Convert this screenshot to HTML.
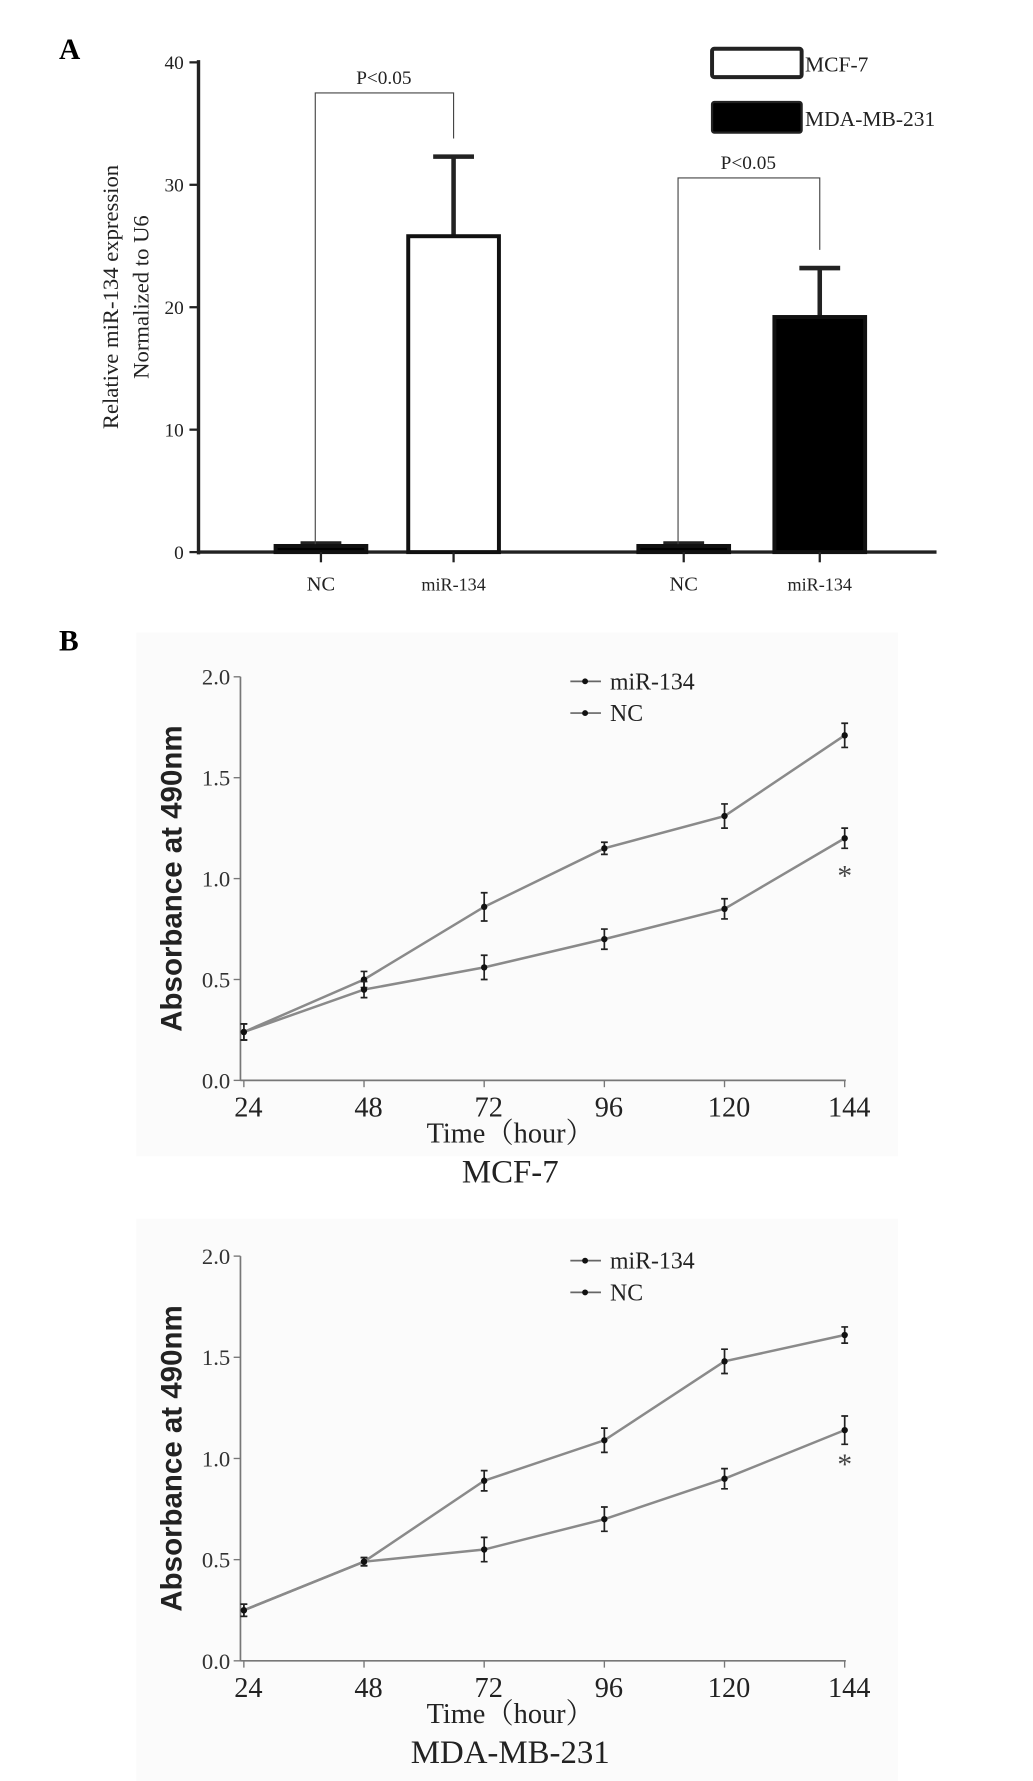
<!DOCTYPE html>
<html><head><meta charset="utf-8"><style>
html,body{margin:0;padding:0;background:#fff;}
svg{display:block;}
.serif{font-family:"Liberation Serif",serif;}
</style></head><body>
<svg id="fig" width="1033" height="1781" viewBox="0 0 911 1571" xmlns="http://www.w3.org/2000/svg">
<rect x="0" y="0" width="911" height="1571" fill="#fff"/>
<rect x="120" y="558" width="672" height="462" fill="#fbfbfb"/>
<rect x="120" y="1075" width="672" height="496" fill="#fbfbfb"/>
<g id="panelA"></g>
<g id="panelB1"></g>
<g id="panelB2"></g>
</svg>
<script>
// Panel A data
const barCats = ["NC","miR-134","NC","miR-134"];
const barValues = [0.5, 25.8, 0.5, 19.2];
const barErrors = [0.2, 6.5, 0.2, 4.0];
const barGroups = ["MCF-7","MCF-7","MDA-MB-231","MDA-MB-231"];
const aTicks = [0,10,20,30,40];
// Panel B data
const timePoints = [24,48,72,96,120,144];
const bTicks = [0.0,0.5,1.0,1.5,2.0];
const mcfMiR = [0.24,0.45,0.56,0.70,0.85,1.20];
const mcfMiRErr = [0.04,0.04,0.06,0.05,0.05,0.05];
const mcfNC = [0.24,0.50,0.86,1.15,1.31,1.71];
const mcfNCErr = [0.04,0.04,0.07,0.03,0.06,0.06];
const mdaMiR = [0.25,0.49,0.55,0.70,0.90,1.14];
const mdaMiRErr = [0.03,0.02,0.06,0.06,0.05,0.07];
const mdaNC = [0.25,0.49,0.89,1.09,1.48,1.61];
const mdaNCErr = [0.03,0.02,0.05,0.06,0.06,0.04];

const NS="http://www.w3.org/2000/svg";
function mk(parent,tag,attrs,text){const e=document.createElementNS(NS,tag);for(const k in attrs)e.setAttribute(k,attrs[k]);if(text!==undefined)e.textContent=text;parent.appendChild(e);return e;}

// ---------- Panel A ----------
(function(){
const g=document.getElementById('panelA');
const y=v=>487-(v/40)*432;
const cx=[283,400,603,723];
let t=mk(g,'text',{x:52,y:52,'font-family':'Liberation Serif,serif','font-size':26,'font-weight':'bold'},'A');


let ax=mk(g,'line',{x1:175,y1:53,x2:175,y2:489,stroke:'#222','stroke-width':3});


let xa=mk(g,'line',{x1:174,y1:487,x2:826,y2:487,stroke:'#222','stroke-width':3});


aTicks.forEach(v=>{
 let l=mk(g,'line',{x1:167,y1:y(v),x2:175,y2:y(v),stroke:'#222','stroke-width':2});
 
 
 let tl=mk(g,'text',{x:162,y:y(v)+6,'text-anchor':'end','font-family':'Liberation Serif,serif','font-size':17,fill:'#222'},String(v));
 
 
});
barValues.forEach((v,i)=>{
 const w=80, x0=cx[i]-w/2;
 const black=barGroups[i]==="MDA-MB-231"||barCats[i]==="NC";
 let err=mk(g,'line',{x1:cx[i],y1:y(v),x2:cx[i],y2:y(v+barErrors[i]),stroke:'#222','stroke-width':4});
 
 
 let cap=mk(g,'line',{x1:cx[i]-18,y1:y(v+barErrors[i]),x2:cx[i]+18,y2:y(v+barErrors[i]),stroke:'#222','stroke-width':4});
 
 
 let r=mk(g,'rect',{x:x0,y:y(v),width:w,height:487-y(v),fill:black?'#000':'#fff',stroke:'#111','stroke-width':3.5});
 
 
 let tk=mk(g,'line',{x1:cx[i],y1:487,x2:cx[i],y2:496,stroke:'#222','stroke-width':2});
 
 
 let lb=mk(g,'text',{x:cx[i],y:521,'text-anchor':'middle','font-family':'Liberation Serif,serif','font-size':barCats[i]==="NC"?18:16,fill:'#222'},barCats[i]);
 
 
});
// brackets
[[0,1,82],[2,3,157]].forEach(([a,b,top])=>{
 let p=mk(g,'path',{d:`M${cx[a]-5} 480 V${top} H${cx[b]} V${y(barValues[b]+barErrors[b])-16}`,fill:'none',stroke:'#444','stroke-width':1});
 
 
 let s=mk(g,'text',{x:(cx[a]+cx[b])/2-3,y:top-8,'text-anchor':'middle','font-family':'Liberation Serif,serif','font-size':17,fill:'#222'},'P<0.05');
 
 
});
let yt=mk(g,'text',{transform:'translate(104,262) rotate(-90)','text-anchor':'middle','font-family':'Liberation Serif,serif','font-size':20,fill:'#222'},'Relative miR-134 expression');


let yt2=mk(g,'text',{transform:'translate(131,262) rotate(-90)','text-anchor':'middle','font-family':'Liberation Serif,serif','font-size':20,fill:'#222'},'Normalized to U6');


let l1=mk(g,'rect',{x:628,y:43,width:79,height:25,fill:'#fff',stroke:'#222','stroke-width':3.5,rx:2});


let l1t=mk(g,'text',{x:710,y:63,'font-family':'Liberation Serif,serif','font-size':19,fill:'#222'},'MCF-7');


let l2=mk(g,'rect',{x:628,y:90,width:79,height:27,fill:'#000',stroke:'#222','stroke-width':2,rx:2});


let l2t=mk(g,'text',{x:710,y:111,'font-family':'Liberation Serif,serif','font-size':19,fill:'#222'},'MDA-MB-231');


})();

// ---------- Panel B ----------
function lineChart(g,top,bottom,miR,miRErr,nc,ncErr,title,label,starY,legY){
 const x=t=>215+(t-24)/120*530;
 const y=v=>bottom-(v/2)*(bottom-top);
 if(label){let b=mk(g,'text',{x:52,y:574,'font-family':'Liberation Serif,serif','font-size':26,'font-weight':'bold'},label);
 
 }
 let ya=mk(g,'line',{x1:212,y1:top,x2:212,y2:bottom,stroke:'#777','stroke-width':1.5});
 
 
 let xa=mk(g,'line',{x1:212,y1:bottom,x2:746,y2:bottom,stroke:'#777','stroke-width':1.5});
 
 
 bTicks.forEach(v=>{
  let l=mk(g,'line',{x1:206,y1:y(v),x2:212,y2:y(v),stroke:'#777','stroke-width':1.2});
  
  
  let t=mk(g,'text',{x:203,y:y(v)+7,'text-anchor':'end','font-family':'Liberation Serif,serif','font-size':20,fill:'#333'},v.toFixed(1));
  
  
 });
 timePoints.forEach(tp=>{
  let l=mk(g,'line',{x1:x(tp),y1:bottom,x2:x(tp),y2:bottom+6,stroke:'#777','stroke-width':1.2});
  
  
  let t=mk(g,'text',{x:x(tp)+4,y:bottom+32,'text-anchor':'middle','font-family':'Liberation Serif,serif','font-size':25,fill:'#222'},String(tp));
  
  
 });
 [[nc,ncErr,'nc'],[miR,miRErr,'mir-134']].forEach(([vals,errs,nm])=>{
  let p=mk(g,'polyline',{points:vals.map((v,i)=>x(timePoints[i])+','+y(v)).join(' '),fill:'none',stroke:'#8a8a8a','stroke-width':2.2});
  
  
  vals.forEach((v,i)=>{
   const xx=x(timePoints[i]);
   let e=mk(g,'path',{d:`M${xx} ${y(v+errs[i])} V${y(v-errs[i])} M${xx-3} ${y(v+errs[i])} H${xx+3} M${xx-3} ${y(v-errs[i])} H${xx+3}`,stroke:'#222','stroke-width':1.5,fill:'none'});
   
   
   let m=mk(g,'circle',{cx:xx,cy:y(v),r:2.8,fill:'#111'});
   
   
  });
 });
 let s=mk(g,'text',{x:745,y:starY,'text-anchor':'middle','font-family':'Liberation Serif,serif','font-size':26,fill:'#444'},'*');
 
 
 [['miR-134',0],['NC',28]].forEach(([n,dy])=>{
  let l=mk(g,'line',{x1:503,y1:legY+dy,x2:530,y2:legY+dy,stroke:'#666','stroke-width':1.5});
  
  
  let c=mk(g,'circle',{cx:516,cy:legY+dy,r:2.6,fill:'#111'});
  
  
  let t=mk(g,'text',{x:538,y:legY+dy+7,'font-family':'Liberation Serif,serif','font-size':21,fill:'#222'},n);
  
  
 });
 let yt=mk(g,'text',{transform:`translate(160,${(top+bottom)/2}) rotate(-90)`,'text-anchor':'middle','font-family':'Liberation Sans,sans-serif','font-size':26,'font-weight':'bold',fill:'#222'},'Absorbance at 490nm');
 
 
 let xt=mk(g,'text',{x:450,y:bottom+55,'text-anchor':'middle','font-family':'Liberation Serif,"Noto Serif CJK SC",serif','font-size':25,fill:'#222'},'Time（hour）');
 
 
 let ct=mk(g,'text',{x:450,y:bottom+90,'text-anchor':'middle','font-family':'Liberation Serif,serif','font-size':29,fill:'#222'},title);
 
 
}
lineChart(document.getElementById('panelB1'),597,953,mcfMiR,mcfMiRErr,mcfNC,mcfNCErr,'MCF-7','B',781,601);
lineChart(document.getElementById('panelB2'),1108,1465,mdaMiR,mdaMiRErr,mdaNC,mdaNCErr,'MDA-MB-231',null,1300,1112);
</script>
</body></html>
